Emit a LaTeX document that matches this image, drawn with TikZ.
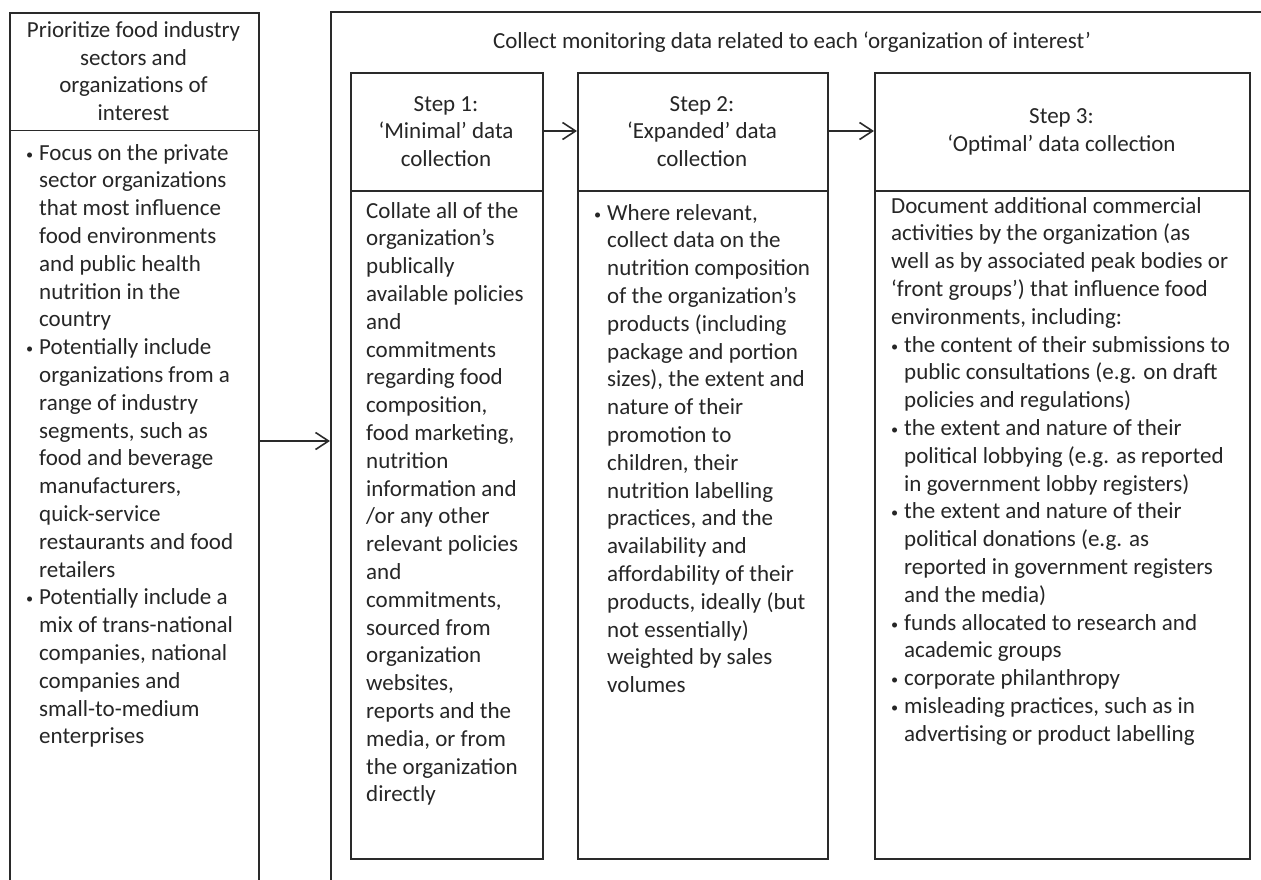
\documentclass[tikz,border=0pt]{standalone}
\usepackage{fontspec}
\setmainfont{Carlito}
\usetikzlibrary{arrows.meta}
\definecolor{ink}{HTML}{262626}
\definecolor{rulec}{HTML}{2A2A2A}
\newlength\bw \setlength\bw{13pt}
\newcommand\bl{\makebox[\bw][l]{\raisebox{1pt}{\scalebox{0.62}{\textbullet}}}}
\newcommand\ind{\hspace*{\bw}}
\newcommand\fs{\fontsize{23}{27.8}\selectfont}
\tikzset{
 box/.style={draw=rulec, line width=1.6pt, anchor=north west, inner sep=0pt, rectangle},
 txt/.style={text=ink, font=\fs, inner sep=0pt},
 body/.style={txt, align=left, anchor=north west},
 head/.style={txt, align=center},
 divider/.style={draw=rulec, line width=1.6pt},
 arr/.style={draw=rulec, line width=1.6pt, -{Straight Barb[length=13pt,width=17pt]}},
}
\begin{document}
\begin{tikzpicture}[x=1pt,y=-1pt]
\clip (0,0) rectangle (1261,880);
\fill[white] (0,0) rectangle (1261,880);
% boxes
\node[box, minimum width=249pt, minimum height=950pt] (leftbox) at (9,12) {};
\node[box, minimum width=1000pt, minimum height=950pt] (bigbox) at (330,11) {};
\node[box, minimum width=192pt, minimum height=786pt] (s1) at (350,72) {};
\node[box, minimum width=250pt, minimum height=786pt] (s2) at (577,72) {};
\node[box, minimum width=375pt, minimum height=786pt] (s3) at (874,72) {};
% dividers
\coordinate (dl) at (0,130.5);
\coordinate (ds) at (0,191);
\draw[divider] (leftbox.west |- dl) -- (leftbox.east |- dl);
\draw[divider] (s1.west |- ds) -- (s1.east |- ds);
\draw[divider] (s2.west |- ds) -- (s2.east |- ds);
\draw[divider] (s3.west |- ds) -- (s3.east |- ds);
% arrows
\coordinate (ya) at (0,441);
\coordinate (yb) at (0,131);
\draw[arr] (leftbox.east |- ya) -- (bigbox.west |- ya);
\draw[arr] (s1.east |- yb) -- (s2.west |- yb);
\draw[arr] (s2.east |- yb) -- (s3.west |- yb);
% titles
\node[txt] (title) at (792,42) {Collect monitoring data related to each ‘organization of interest’};
\node[head] (lhead) at (133.5,71) {Prioritize food industry\\sectors and\\organizations of\\interest};
\node[head] (h1) at (446,131.5) {Step 1:\\‘Minimal’ data\\collection};
\node[head] (h2) at (702,131.5) {Step 2:\\‘Expanded’ data\\collection};
\node[head] (h3) at (1061.5,131.5) {Step 3:\\‘Optimal’ data collection};
% bodies
\node[body] (lbody) at (26,140.5) {\strut\bl Focus on the private\\
\ind sector organizations\\
\ind that most influence\\
\ind food environments\\
\ind and public health\\
\ind nutrition in the\\
\ind country\\
\bl Potentially include\\
\ind organizations from a\\
\ind range of industry\\
\ind segments, such as\\
\ind food and beverage\\
\ind manufacturers,\\
\ind quick-service\\
\ind restaurants and food\\
\ind retailers\\
\bl Potentially include a\\
\ind mix of trans-national\\
\ind companies, national\\
\ind companies and\\
\ind small-to-medium\\
\ind enterprises};
\node[body] (b1) at (366,198.5) {\strut Collate all of the\\
organization’s\\
publically\\
available policies\\
and\\
commitments\\
regarding food\\
composition,\\
food marketing,\\
nutrition\\
information and\\
/or any other\\
relevant policies\\
and\\
commitments,\\
sourced from\\
organization\\
websites,\\
reports and the\\
media, or from\\
the organization\\
directly};
\node[body] (b2) at (594,200.5) {\strut\bl Where relevant,\\
\ind collect data on the\\
\ind nutrition composition\\
\ind of the organization’s\\
\ind products (including\\
\ind package and portion\\
\ind sizes), the extent and\\
\ind nature of their\\
\ind promotion to\\
\ind children, their\\
\ind nutrition labelling\\
\ind practices, and the\\
\ind availability and\\
\ind affordability of their\\
\ind products, ideally (but\\
\ind not essentially)\\
\ind weighted by sales\\
\ind volumes};
\node[body] (b3) at (891,193.5) {\strut Document additional commercial\\
activities by the organization (as\\
well as by associated peak bodies or\\
‘front groups’) that influence food\\
environments, including:\\
\bl the content of their submissions to\\
\ind public consultations (e.g. on draft\\
\ind policies and regulations)\\
\bl the extent and nature of their\\
\ind political lobbying (e.g. as reported\\
\ind in government lobby registers)\\
\bl the extent and nature of their\\
\ind political donations (e.g. as\\
\ind reported in government registers\\
\ind and the media)\\
\bl funds allocated to research and\\
\ind academic groups\\
\bl corporate philanthropy\\
\bl misleading practices, such as in\\
\ind advertising or product labelling};
\end{tikzpicture}
\end{document}
